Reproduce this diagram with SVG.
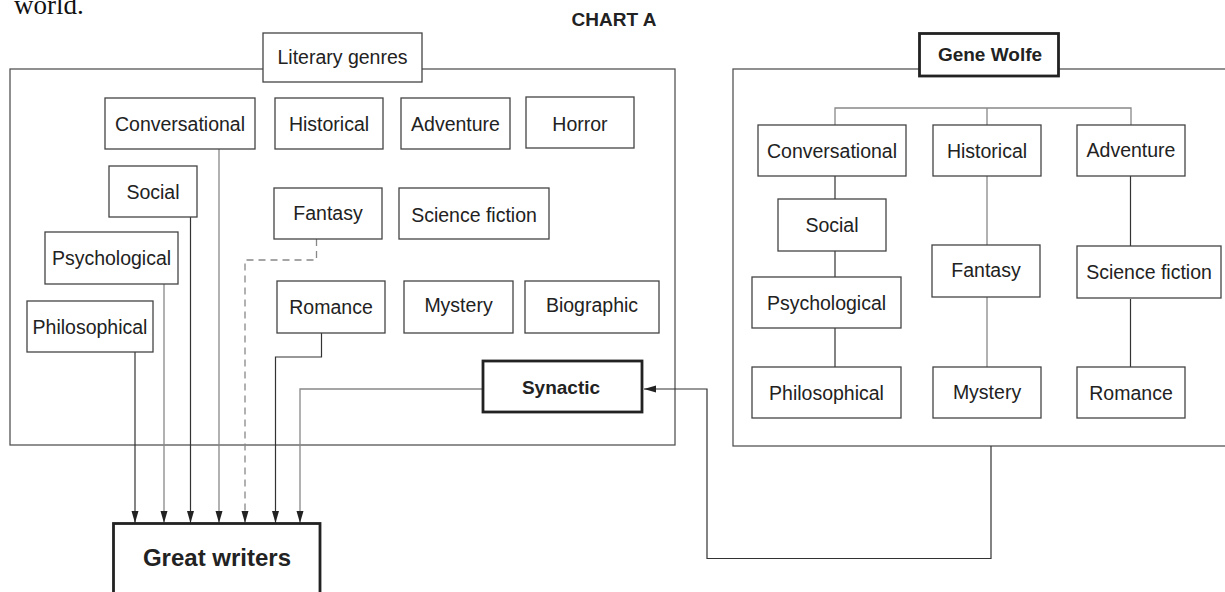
<svg xmlns="http://www.w3.org/2000/svg" width="1225" height="592" viewBox="0 0 1225 592">
<style>
.box{fill:#fff;stroke:#444;stroke-width:1.3}
.bold{fill:#fff;stroke:#222;stroke-width:2.8}
.frame{fill:none;stroke:#555;stroke-width:1.3}
.t{font-family:"Liberation Sans",Arial,sans-serif;font-size:19.5px;fill:#222;text-anchor:middle}
.tb{font-family:"Liberation Sans",Arial,sans-serif;font-size:19px;font-weight:bold;fill:#222;text-anchor:middle}
.dk{fill:none;stroke:#333;stroke-width:1.2}
.gr{fill:none;stroke:#888;stroke-width:1.3}
.ds{fill:none;stroke:#888;stroke-width:1.3;stroke-dasharray:7,5}
</style>
<defs>
<marker id="ah" markerWidth="12" markerHeight="8" refX="12" refY="4" orient="auto" markerUnits="userSpaceOnUse">
<path d="M0,0.5 L12,4 L0,7.5 Z" fill="#222"/>
</marker>
</defs>
<text x="14" y="14" style="font-family:'Liberation Serif','Times New Roman',serif;font-size:27px;fill:#111">world.</text>
<text x="614" y="26" class="tb">CHART A</text>

<!-- frames -->
<g id="frame-left"><rect x="10" y="69" width="665" height="376" class="frame"/></g>
<g id="frame-right"><rect x="733" y="69" width="500" height="377" class="frame"/></g>

<!-- connectors -->
<g id="connectors">
<path d="M135,352 V523" class="dk" marker-end="url(#ah)"/>
<path d="M164,284 V523" class="gr" marker-end="url(#ah)"/>
<path d="M190.5,217 V523" class="dk" marker-end="url(#ah)"/>
<path d="M219,149 V523" class="gr" marker-end="url(#ah)"/>
<path d="M316.5,239 V260 H245 V523" class="ds" marker-end="url(#ah)"/>
<path d="M321.5,333 V357 H275.5 V523" class="dk" marker-end="url(#ah)"/>
<path d="M483,389 H300 V523" class="gr" marker-end="url(#ah)"/>
<path d="M991,446 V558.5 H707 V389 H644" class="dk" marker-end="url(#ah)"/>
<path d="M835,125 V108 H1131 V125 M987,108 V125" class="gr"/>
<path d="M835,176 V199 M835,251 V277 M835,328 V367" class="dk"/>
<path d="M987,176 V245 M987,297 V367" class="gr"/>
<path d="M1130.5,176 V246 M1130.5,299 V367" class="dk"/>
</g>

<!-- left nodes -->
<g id="lit-genres"><rect x="263" y="33" width="159" height="49" class="box"/><text x="342.5" y="64" class="t">Literary genres</text></g>
<g id="l-conversational"><rect x="105" y="98" width="150" height="51" class="box"/><text x="180" y="131" class="t">Conversational</text></g>
<g id="l-historical"><rect x="275" y="98" width="108" height="51" class="box"/><text x="329" y="131" class="t">Historical</text></g>
<g id="l-adventure"><rect x="401" y="98" width="109" height="51" class="box"/><text x="455.5" y="131" class="t">Adventure</text></g>
<g id="l-horror"><rect x="526" y="97" width="108" height="51" class="box"/><text x="580" y="130.5" class="t">Horror</text></g>
<g id="l-social"><rect x="109" y="166" width="88" height="51" class="box"/><text x="153" y="199" class="t">Social</text></g>
<g id="l-fantasy"><rect x="274" y="188" width="108" height="51" class="box"/><text x="328" y="219.5" class="t">Fantasy</text></g>
<g id="l-scifi"><rect x="399" y="188" width="150" height="51" class="box"/><text x="474" y="221.5" class="t">Science fiction</text></g>
<g id="l-psychological"><rect x="45" y="232" width="133" height="52" class="box"/><text x="111.5" y="265" class="t">Psychological</text></g>
<g id="l-philosophical"><rect x="27" y="301" width="126" height="51" class="box"/><text x="90" y="333.5" class="t">Philosophical</text></g>
<g id="l-romance"><rect x="277" y="281" width="108" height="52" class="box"/><text x="331" y="314" class="t">Romance</text></g>
<g id="l-mystery"><rect x="404" y="281" width="109" height="52" class="box"/><text x="458.5" y="312" class="t">Mystery</text></g>
<g id="l-biographic"><rect x="525" y="281" width="134" height="52" class="box"/><text x="592" y="312" class="t">Biographic</text></g>
<g id="synactic"><rect x="483" y="361" width="159" height="51" class="bold"/><text x="561" y="394" class="tb">Synactic</text></g>
<g id="great-writers"><rect x="113.5" y="523.5" width="206.5" height="80" class="bold"/><text x="217" y="566" class="tb" style="font-size:24px">Great writers</text></g>

<!-- right nodes -->
<g id="gene-wolfe"><rect x="919.5" y="33.5" width="139" height="42.5" class="bold"/><text x="990" y="61" class="tb">Gene Wolfe</text></g>
<g id="r-conversational"><rect x="758" y="125" width="148" height="51" class="box"/><text x="832" y="157.5" class="t">Conversational</text></g>
<g id="r-historical"><rect x="933" y="125" width="108" height="51" class="box"/><text x="987" y="157.5" class="t">Historical</text></g>
<g id="r-adventure"><rect x="1077" y="125" width="108" height="51" class="box"/><text x="1131" y="156.5" class="t">Adventure</text></g>
<g id="r-social"><rect x="778" y="199" width="108" height="52" class="box"/><text x="832" y="231.5" class="t">Social</text></g>
<g id="r-fantasy"><rect x="932" y="245" width="108" height="52" class="box"/><text x="986" y="276.5" class="t">Fantasy</text></g>
<g id="r-scifi"><rect x="1077" y="246" width="144" height="52" class="box"/><text x="1149" y="278.5" class="t">Science fiction</text></g>
<g id="r-psychological"><rect x="752" y="277" width="149" height="51" class="box"/><text x="826.5" y="309.5" class="t">Psychological</text></g>
<g id="r-philosophical"><rect x="752" y="367" width="149" height="51" class="box"/><text x="826.5" y="399.5" class="t">Philosophical</text></g>
<g id="r-mystery"><rect x="933" y="367" width="108" height="51" class="box"/><text x="987" y="398.5" class="t">Mystery</text></g>
<g id="r-romance"><rect x="1077" y="367" width="108" height="51" class="box"/><text x="1131" y="399.5" class="t">Romance</text></g>
</svg>
